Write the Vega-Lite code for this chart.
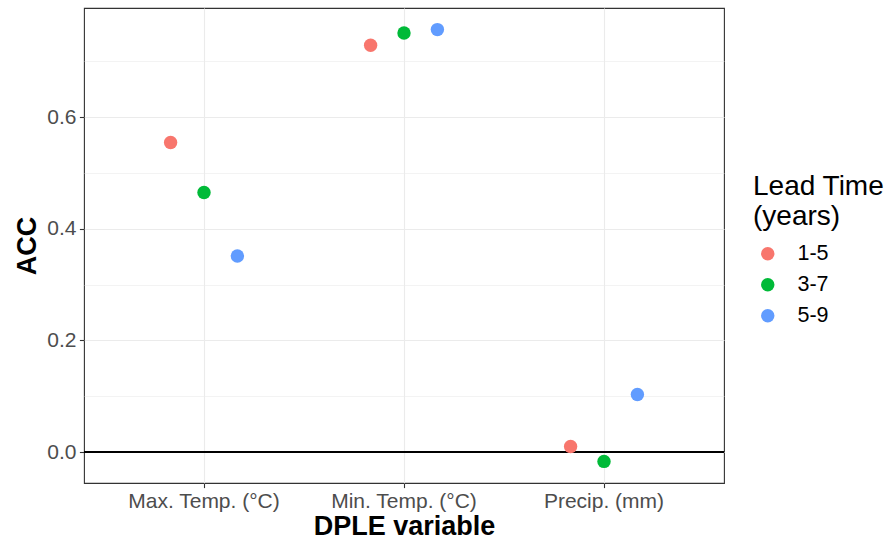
{
  "$schema": "https://vega.github.io/schema/vega-lite/v6.json",
  "width": 640,
  "height": 475,
  "autosize": "none",
  "padding": {"left": 84, "top": 8, "right": 170, "bottom": 57},
  "background": "white",
  "config": {
    "font": "Liberation Sans",
    "view": {"stroke": "#333333", "strokeWidth": 1.1},
    "axis": {
      "labelFontSize": 21,
      "labelColor": "#4D4D4D",
      "labelFont": "Liberation Sans",
      "tickColor": "#333333",
      "tickSize": 4.6,
      "tickWidth": 1.1,
      "domain": false,
      "titleFontSize": 27,
      "titleFontWeight": "bold",
      "titleColor": "black",
      "titleFont": "Liberation Sans",
      "gridColor": "#EBEBEB",
      "gridWidth": 1.1,
      "labelPadding": 2.5
    },
    "legend": {
      "titleFontSize": 28,
      "titleFontWeight": "normal",
      "titleColor": "black",
      "labelFontSize": 21.5,
      "labelColor": "black",
      "labelFont": "Liberation Sans",
      "titleFont": "Liberation Sans"
    }
  },
  "data": {
    "values": [
      {"variable": "Max. Temp. (°C)", "lead": "1-5", "acc": 0.5546},
      {"variable": "Max. Temp. (°C)", "lead": "3-7", "acc": 0.465},
      {"variable": "Max. Temp. (°C)", "lead": "5-9", "acc": 0.351},
      {"variable": "Min. Temp. (°C)", "lead": "1-5", "acc": 0.7286},
      {"variable": "Min. Temp. (°C)", "lead": "3-7", "acc": 0.7506},
      {"variable": "Min. Temp. (°C)", "lead": "5-9", "acc": 0.7567},
      {"variable": "Precip. (mm)", "lead": "1-5", "acc": 0.010},
      {"variable": "Precip. (mm)", "lead": "3-7", "acc": -0.0168},
      {"variable": "Precip. (mm)", "lead": "5-9", "acc": 0.103}
    ]
  },
  "resolve": {"axis": {"y": "independent"}},
  "layer": [
    {
      "mark": {"type": "rule", "color": "transparent"},
      "encoding": {
        "y": {
          "datum": 0,
          "type": "quantitative",
          "scale": {"domain": [-0.0555, 0.7954], "nice": false, "zero": false},
          "axis": {
            "orient": "left",
            "values": [0.1, 0.3, 0.5, 0.7],
            "grid": true,
            "gridWidth": 0.6,
            "labels": false,
            "ticks": false,
            "title": null,
            "domain": false
          }
        }
      }
    },
    {
      "mark": {"type": "rule", "color": "black", "strokeWidth": 1.1},
      "encoding": {
        "y": {
          "datum": 0,
          "type": "quantitative",
          "axis": {
            "orient": "left",
            "values": [0, 0.2, 0.4, 0.6],
            "grid": true,
            "format": ".1f",
            "title": "ACC",
            "titleX": -49,
            "titleBaseline": "alphabetic",
            "labelPadding": 3.5
          }
        }
      }
    },
    {
      "mark": {"type": "point", "filled": true, "size": 180, "opacity": 1},
      "encoding": {
        "x": {
          "field": "variable",
          "type": "nominal",
          "scale": {"paddingInner": 0, "paddingOuter": 0.1},
          "axis": {
            "labelAngle": 0,
            "grid": true,
            "title": "DPLE variable",
            "titleY": 51,
            "titleBaseline": "alphabetic"
          }
        },
        "xOffset": {
          "field": "lead",
          "type": "nominal",
          "scale": {"type": "point", "range": [66.6, 133.4], "padding": 0}
        },
        "y": {"field": "acc", "type": "quantitative", "axis": null},
        "color": {
          "field": "lead",
          "type": "nominal",
          "scale": {"domain": ["1-5", "3-7", "5-9"], "range": ["#F8766D", "#00BA38", "#619CFF"]},
          "legend": {
            "title": ["Lead Time", "(years)"],
            "orient": "none",
            "legendX": 669,
            "legendY": 165,
            "symbolType": "circle",
            "symbolSize": 180,
            "symbolOffset": 4,
            "rowPadding": 8,
            "labelOffset": 19,
            "titlePadding": 12
          }
        }
      }
    }
  ]
}
